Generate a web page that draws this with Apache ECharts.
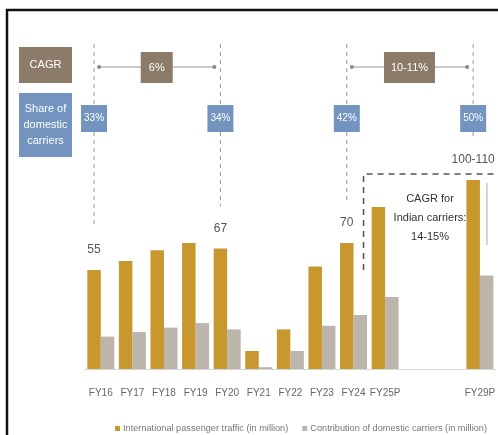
<!DOCTYPE html>
<html><head><meta charset="utf-8">
<script src="https://cdn.jsdelivr.net/npm/echarts@6/dist/echarts.min.js"></script>
<style>html,body{margin:0;padding:0;background:#fff}#c{width:498px;height:435px}</style>
</head><body><div id="c"></div>
<script>
const categories = ['FY16','FY17','FY18','FY19','FY20','FY21','FY22','FY23','FY24','FY25P',' ','  ','FY29P'];
const intlTraffic = [55,60,66,70,67,10,22,57,70,90,null,null,105];
const domesticContribution = [18,20.5,23,25.5,22,1,10,24,30,40,null,null,52];
const intlLabels = ['55','','','','67','','','','70','','','','100-110'];
const shareCats = ['FY16','FY20','FY24','FY29P'];
const shareValues = ['33%','34%','42%','50%'];
const cagrSpans = [['FY16','FY20','6%'],['FY24','FY29P','10-11%']];
const carrierNote = 'CAGR for\nIndian carriers:\n14-15%';
const seriesNames = ['International passenger traffic (in million)','Contribution of domestic carriers (in million)'];

const FONT = "'Liberation Sans Narrow','Liberation Sans',sans-serif";
const GOLD = '#c8982f', GREY = '#bbb5ab', BROWN = '#8c7b69', BLUE = '#7294be';
const BW = 13.5;

const chart = echarts.init(document.getElementById('c'));
chart.setOption({
  animation:false,
  textStyle:{fontFamily:FONT},
  grid:{left:85, width:416, top:153, height:216},
  xAxis:{type:'category', data:categories,
    axisLine:{lineStyle:{color:'#d6d6d6', width:1}}, axisTick:{show:false},
    axisLabel:{color:'#666', fontSize:10, fontFamily:FONT, margin:19, interval:0}},
  yAxis:{type:'value', min:0, max:120, show:false, splitLine:{show:false}},
  legend:{top:419, left:110, width:430, icon:'rect', itemWidth:5, itemHeight:5, itemGap:14,
    textStyle:{color:'#777', fontSize:9.2, fontFamily:FONT, padding:[0,0,0,-2]}, data:seriesNames},
  series:[
    {name:seriesNames[0], type:'bar', data:intlTraffic, barWidth:BW, barGap:'0%',
      itemStyle:{color:GOLD},
      label:{show:true, position:'top', distance:14, color:'#555', fontSize:12, fontFamily:FONT,
        formatter:p=>intlLabels[p.dataIndex]}},
    {name:seriesNames[1], type:'bar', data:domesticContribution, barWidth:BW, barGap:'0%',
      itemStyle:{color:GREY}}
  ]
});

function gx(cat){ return chart.convertToPixel({xAxisIndex:0}, cat) - BW/2; }
function gy(v){ return chart.convertToPixel({yAxisIndex:0}, v); }
const g = [];
g.push({type:'line', shape:{x1:6,y1:10,x2:498,y2:10}, style:{stroke:'#111', lineWidth:2.5}, z:100});
g.push({type:'line', shape:{x1:7,y1:9,x2:7,y2:435}, style:{stroke:'#111', lineWidth:2.5}, z:100});
g.push({type:'rect', shape:{x:19,y:47,width:53,height:36}, style:{fill:BROWN}, z:50});
g.push({type:'text', x:45.5, y:65, style:{text:'CAGR', fill:'#fff', font:'11px '+FONT, align:'center', verticalAlign:'middle'}, z:51});
g.push({type:'rect', shape:{x:19,y:93,width:53,height:64}, style:{fill:BLUE}, z:50});
g.push({type:'text', x:45.5, y:125, style:{text:'Share of\ndomestic\ncarriers', fill:'#fff', font:'11px '+FONT, lineHeight:16, align:'center', verticalAlign:'middle'}, z:51});
shareCats.forEach((c,i)=>{
  const idx = categories.indexOf(c);
  const x = gx(c);
  const yEnd = gy(intlTraffic[idx]) - 42;
  g.push({type:'line', shape:{x1:x,y1:44,x2:x,y2:yEnd}, style:{stroke:'#999', lineWidth:1, lineDash:[4,4]}, z:40});
  g.push({type:'rect', shape:{x:x-13,y:105,width:26,height:27}, style:{fill:BLUE}, z:50});
  g.push({type:'text', x:x, y:118.5, style:{text:shareValues[i], fill:'#fff', font:'10px '+FONT, align:'center', verticalAlign:'middle'}, z:51});
});
cagrSpans.forEach(s=>{
  const x1 = gx(s[0]) + 5, x2 = gx(s[1]) - 6, y = 67;
  g.push({type:'line', shape:{x1:x1,y1:y,x2:x2,y2:y}, style:{stroke:'#999', lineWidth:1}, z:45});
  g.push({type:'circle', shape:{cx:x1,cy:y,r:2}, style:{fill:'#888'}, z:46});
  g.push({type:'circle', shape:{cx:x2,cy:y,r:2}, style:{fill:'#888'}, z:46});
  const w = s[2].length > 3 ? 51 : 32;
  const cx = (x1+x2)/2;
  g.push({type:'rect', shape:{x:cx-w/2,y:52,width:w,height:31}, style:{fill:BROWN}, z:50});
  g.push({type:'text', x:cx, y:67.5, style:{text:s[2], fill:'#fff', font:'11px '+FONT, align:'center', verticalAlign:'middle'}, z:51});
});
const bx = chart.convertToPixel({xAxisIndex:0}, 'FY24') + 10;
g.push({type:'polyline', shape:{points:[[bx,270],[bx,174],[498,174]]}, style:{stroke:'#555', lineWidth:1.5, lineDash:[6,5], fill:null}, z:45});
g.push({type:'text', x:430, y:218, style:{text:carrierNote, fill:'#333', font:'11px '+FONT, lineHeight:19, align:'center', verticalAlign:'middle'}, z:51});
const rx = chart.convertToPixel({xAxisIndex:0}, 'FY29P') + 7;
g.push({type:'line', shape:{x1:rx,y1:183,x2:rx,y2:245}, style:{stroke:'#aaa', lineWidth:1}, z:45});
chart.setOption({graphic:g});
</script></body></html>
